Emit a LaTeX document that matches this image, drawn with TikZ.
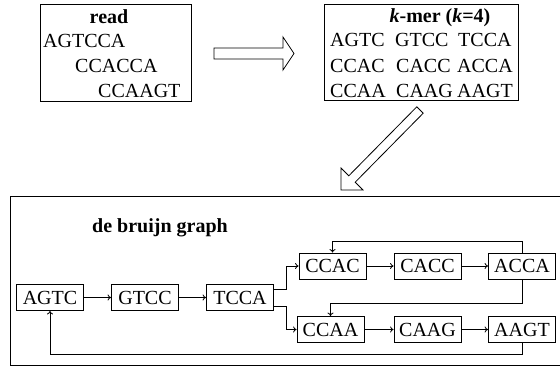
\documentclass[tikz,border=0pt]{standalone}
\usepackage{fontspec}
\setmainfont{Liberation Serif}
\usetikzlibrary{arrows.meta}
\begin{document}
\begin{tikzpicture}[x=1pt,y=-1pt,
  every node/.style={font=\fontsize{20}{24}\selectfont, inner sep=0pt},
  frame/.style={draw, line width=0.9pt},
  txt/.style={anchor=base west},
  ttl/.style={anchor=base, font=\fontsize{20}{24}\selectfont\bfseries},
  gnode/.style={draw, line width=0.8pt, minimum width=67pt, minimum height=26pt},
  conn/.style={line width=0.8pt, -{To[length=3.5pt,width=6pt]}},
  hollow/.style={draw, line width=0.8pt, fill=white}]
\useasboundingbox (0,0) rectangle (560,366);
% read box
\node[frame, minimum width=151pt, minimum height=97pt] (readbox) at (115.5,53) {};
\node[ttl] (readt) at (109,24) {read};
\node[txt] (r1) at (43,48) {AGTCCA};
\node[txt] (r2) at (75,73) {CCACCA};
\node[txt] (r3) at (98,98) {CCAAGT};
% k-mer box
\node[frame, minimum width=194pt, minimum height=96pt] (kbox) at (421,52.5) {};
\node[ttl] (kt) at (440,23) {\textit{k}-mer (\textit{k}=4)};
\node[txt] (k11) at (330,47) {AGTC};
\node[txt] (k12) at (395,47) {GTCC};
\node[txt] (k13) at (458,47) {TCCA};
\node[txt] (k21) at (330,73) {CCAC};
\node[txt] (k22) at (396,73) {CACC};
\node[txt] (k23) at (457,73) {ACCA};
\node[txt] (k31) at (330,98) {CCAA};
\node[txt] (k32) at (396,98) {CAAG};
\node[txt] (k33) at (457,98) {AAGT};
% hollow arrows
\path[hollow] (214,48) -- (283,48) -- (283,37) -- (294,53.5) -- (283,70) -- (283,59) -- (214,59) -- cycle;
\path[hollow] (416.8,106.8) -- (348.8,175.8) -- (341,168) -- (341,190) -- (363,190) -- (355.2,182.2) -- (423.2,113.2) -- cycle;
% graph box
\draw[frame] (570,196) -- (10,196) -- (10,365) -- (570,365);
\node[ttl] (gt) at (160,233) {de bruijn graph};
% graph nodes
\node[gnode] (AGTC) at (50,297.5) {AGTC};
\node[gnode] (GTCC) at (145,297.5) {GTCC};
\node[gnode] (TCCA) at (240,297.5) {TCCA};
\node[gnode] (CCAC) at (332.5,266) {CCAC};
\node[gnode] (CACC) at (427.5,266) {CACC};
\node[gnode] (ACCA) at (522,266) {ACCA};
\node[gnode] (CCAA) at (330.5,329.5) {CCAA};
\node[gnode] (CAAG) at (427.5,329.5) {CAAG};
\node[gnode] (AAGT) at (522,329.5) {AAGT};
% connectors
\draw[conn] (AGTC.east) -- (GTCC.west);
\draw[conn] (GTCC.east) -- (TCCA.west);
\draw[conn] ([yshift=8.5pt]TCCA.east) -- ++(12,0) |- (CCAC.west);
\draw[conn] ([yshift=-8.5pt]TCCA.east) -- ++(12,0) |- (CCAA.west);
\draw[conn] (CCAC.east) -- (CACC.west);
\draw[conn] (CACC.east) -- (ACCA.west);
\draw[conn] (CCAA.east) -- (CAAG.west);
\draw[conn] (CAAG.east) -- (AAGT.west);
\draw[conn] (ACCA.north) -- ++(0,-11) -| (CCAC.north);
\draw[conn] (ACCA.south) -- ++(0,24) -| (CCAA.north);
\draw[conn] (AAGT.south) -- ++(0,11.5) -| (AGTC.south);
\end{tikzpicture}
\end{document}
